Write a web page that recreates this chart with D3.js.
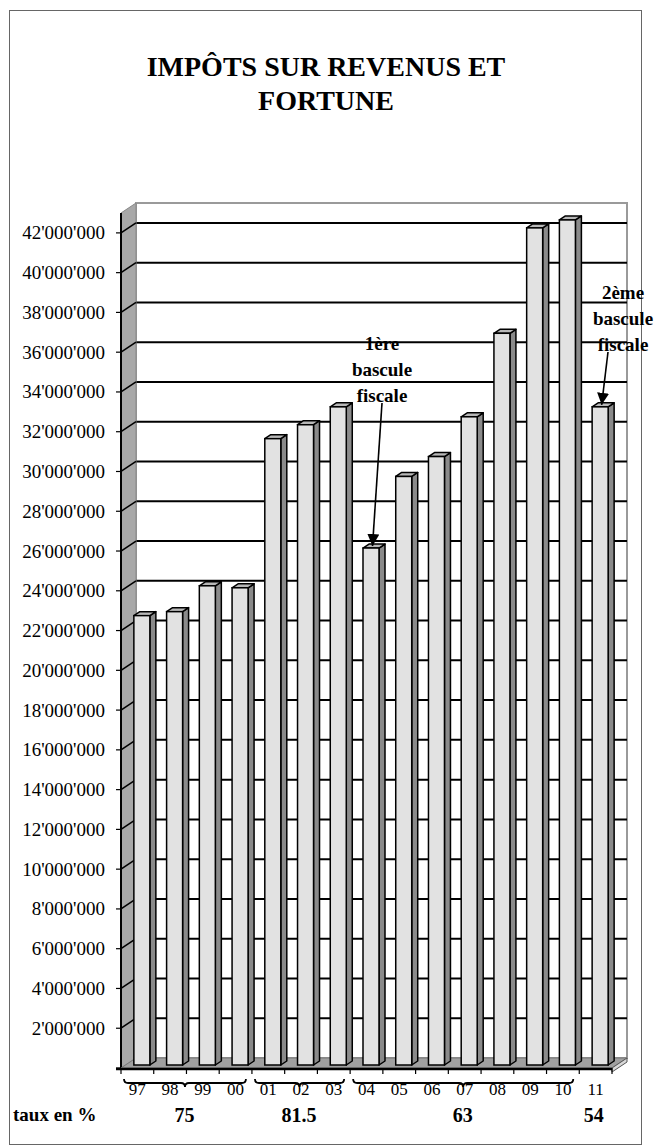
<!DOCTYPE html>
<html><head><meta charset="utf-8">
<script src="https://cdn.jsdelivr.net/npm/d3@7"></script>
<style>html,body{margin:0;padding:0;background:#fff;}svg{display:block;} text{font-family:"Liberation Serif","Tinos","Times New Roman",serif;}</style>
</head><body>
<div id="chart"></div>
<script>
// ---- data ----
const years = ["97","98","99","00","01","02","03","04","05","06","07","08","09","10","11"];
const values = [22600000,22800000,24100000,24000000,31500000,32200000,33100000,26000000,29600000,30600000,32600000,36800000,42100000,42500000,33100000];
const yTicks = [2000000,4000000,6000000,8000000,10000000,12000000,14000000,16000000,18000000,20000000,22000000,24000000,26000000,28000000,30000000,32000000,34000000,36000000,38000000,40000000,42000000];
const groupLabels = ["75","81.5","63","54"];
const groupFirst = ["97","01","04","11"];
const groupLast = ["00","03","10","11"];
const groupBrace = [true,true,true,false];
const titleLines = ["IMPÔTS SUR REVENUS ET","FORTUNE"];
const rowLabel = "taux en %";
const notes = [
  {lines:["1ère","bascule","fiscale"], year:"04"},
  {lines:["2ème","bascule","fiscale"], year:"11"}
];

// ---- layout ----
const W=661,H=1145;
const svg=d3.select("#chart").append("svg").attr("width",W).attr("height",H);
const DX=15, DY=-10;
const x=d3.scaleBand().domain(years).range([121,612]);
const y=d3.scaleLinear().domain([0,43000000]).range([1068,213]);
const bw=x.bandwidth();
const fmt=v=>d3.format(",")(v).replace(/,/g,"'");

// outer frame
svg.append("rect").attr("x",9.5).attr("y",10.5).attr("width",632).attr("height",1134)
  .attr("fill","none").attr("stroke","#666").attr("stroke-width",1);

// title
svg.append("g").selectAll("text").data(titleLines).join("text")
  .attr("x",326).attr("y",(d,i)=>76+i*34).attr("text-anchor","middle")
  .attr("font-weight","bold").attr("font-size",28)
  .text(d=>d);

const x0=x.range()[0], x1=x.range()[1];
const yTop=y(y.domain()[1]), y0=y(0);

// back wall
svg.append("rect").attr("x",x0+DX).attr("y",yTop+DY).attr("width",x1-x0).attr("height",y0-yTop)
  .attr("fill","#fff").attr("stroke","#9a9a9a").attr("stroke-width",2);
// gridlines on back wall
svg.append("g").selectAll("line").data(yTicks).join("line")
  .attr("x1",x0+DX).attr("x2",x1+DX).attr("y1",d=>y(d)+DY).attr("y2",d=>y(d)+DY)
  .attr("stroke","#000").attr("stroke-width",2);
// left wall
svg.append("path").attr("d",`M${x0},${y0}L${x0},${yTop}L${x0+DX},${yTop+DY}L${x0+DX},${y0+DY}Z`)
  .attr("fill","#a8a8a8").attr("stroke","#888").attr("stroke-width",1);
svg.append("line").attr("x1",x0).attr("x2",x0).attr("y1",yTop).attr("y2",y0)
  .attr("stroke","#000").attr("stroke-width",2);
svg.append("g").selectAll("line").data(yTicks).join("line")
  .attr("x1",x0).attr("x2",x0+DX).attr("y1",d=>y(d)).attr("y2",d=>y(d)+DY)
  .attr("stroke","#000").attr("stroke-width",1.5);
// y ticks & labels
svg.append("g").selectAll("line").data(yTicks.concat([0])).join("line")
  .attr("x1",x0-5).attr("x2",x0).attr("y1",d=>y(d)).attr("y2",d=>y(d))
  .attr("stroke","#000").attr("stroke-width",1.2);
svg.append("g").selectAll("text").data(yTicks).join("text")
  .attr("x",105).attr("y",d=>y(d)+6.5).attr("text-anchor","end")
  .attr("font-size",19).text(fmt);

// floor
svg.append("path").attr("d",`M${x0},${y0}L${x1},${y0}L${x1+DX},${y0+DY}L${x0+DX},${y0+DY}Z`)
  .attr("fill","#a0a0a0").attr("stroke","#777").attr("stroke-width",1);
svg.append("path").attr("d",`M${x1},${y0}L${x1+DX},${y0+DY}L${x1+DX},${y0+DY+4}L${x1},${y0+4}Z`)
  .attr("fill","#d8d8d8").attr("stroke","#555").attr("stroke-width",1);
svg.append("line").attr("x1",x0-5).attr("x2",x1).attr("y1",y0+1).attr("y2",y0+1)
  .attr("stroke","#000").attr("stroke-width",2.5);

// bars
const w=16, f0=0.3, f1=0.7;
const bars=svg.append("g").selectAll("g").data(years.map((d,i)=>({k:d,v:values[i]}))).join("g");
const bx=d=>x(d.k)+(bw-w)/2+DX*f0;
const fy=v=>y(v)+DY*f0;
const sdx=DX*(f1-f0), sdy=DY*(f1-f0);
bars.append("path").attr("d",d=>`M${bx(d)+w},${fy(d.v)}L${bx(d)+w+sdx},${fy(d.v)+sdy}L${bx(d)+w+sdx},${fy(0)+sdy}L${bx(d)+w},${fy(0)}Z`)
  .attr("fill","#8a8a8a").attr("stroke","#000").attr("stroke-width",1.5).attr("stroke-linejoin","round");
bars.append("path").attr("d",d=>`M${bx(d)},${fy(d.v)}L${bx(d)+sdx},${fy(d.v)+sdy}L${bx(d)+w+sdx},${fy(d.v)+sdy}L${bx(d)+w},${fy(d.v)}Z`)
  .attr("fill","#b8b8b8").attr("stroke","#000").attr("stroke-width",1.5).attr("stroke-linejoin","round");
bars.append("rect").attr("x",bx).attr("y",d=>fy(d.v)).attr("width",w).attr("height",d=>fy(0)-fy(d.v))
  .attr("fill","#e2e2e2").attr("stroke","#000").attr("stroke-width",1.5);

// x ticks
svg.append("g").selectAll("line").data(years.concat(["end"])).join("line")
  .attr("x1",d=>d==="end"?x1:x(d)).attr("x2",d=>d==="end"?x1:x(d))
  .attr("y1",y0).attr("y2",y0+6).attr("stroke","#000").attr("stroke-width",1.2);
// x labels
svg.append("g").selectAll("text").data(years).join("text")
  .attr("x",d=>x(d)+bw/2).attr("y",1095).attr("text-anchor","middle")
  .attr("font-size",17).text(d=>d);

// braces
const braceY=1083;
function brace(xa,xb){
  const p=d3.path(), xm=(xa+xb)/2, r=4;
  p.moveTo(xa,braceY-r);
  p.quadraticCurveTo(xa,braceY,xa+r,braceY);
  p.lineTo(xm-r,braceY);
  p.quadraticCurveTo(xm,braceY,xm,braceY+r);
  p.quadraticCurveTo(xm,braceY,xm+r,braceY);
  p.lineTo(xb-r,braceY);
  p.quadraticCurveTo(xb,braceY,xb,braceY-r);
  return p.toString();
}
groupLabels.forEach((g,i)=>{
  const xa=x(groupFirst[i])+3, xb=x(groupLast[i])+bw-6;
  if(groupBrace[i]) svg.append("path").attr("d",brace(xa,xb)).attr("fill","none")
    .attr("stroke","#000").attr("stroke-width",1.8);
  svg.append("text").attr("x",(x(groupFirst[i])+x(groupLast[i])+bw)/2-2).attr("y",1122)
    .attr("text-anchor","middle").attr("font-weight","bold")
    .attr("font-size",20).text(g);
});
svg.append("text").attr("x",13).attr("y",1121).attr("font-weight","bold")
  .attr("font-size",19).text(rowLabel);

// annotations
svg.append("defs").append("marker").attr("id","ah").attr("viewBox","0 0 10 10")
  .attr("refX",10).attr("refY",5).attr("markerWidth",12).attr("markerHeight",12)
  .attr("markerUnits","userSpaceOnUse").attr("orient","auto")
  .append("path").attr("d","M0,0L10,5L0,10Z").attr("fill","#000");
const noteX=[382,623];
const noteY=[343,292];
notes.forEach((n,i)=>{
  const cx=noteX[i], cy=noteY[i];
  svg.append("g").selectAll("text").data(n.lines).join("text")
    .attr("x",cx).attr("y",(d,j)=>cy+7+j*26).attr("text-anchor","middle")
    .attr("font-weight","bold").attr("font-size",19).text(d=>d);
  const v=values[years.indexOf(n.year)];
  const tx=x(n.year)+bw/2+6, ty=fy(v)-2;
  svg.append("line").attr("x1",cx-(i?15:0)).attr("y1",cy+60).attr("x2",tx).attr("y2",ty)
    .attr("stroke","#000").attr("stroke-width",1.6).attr("marker-end","url(#ah)");
});
</script>
</body></html>
